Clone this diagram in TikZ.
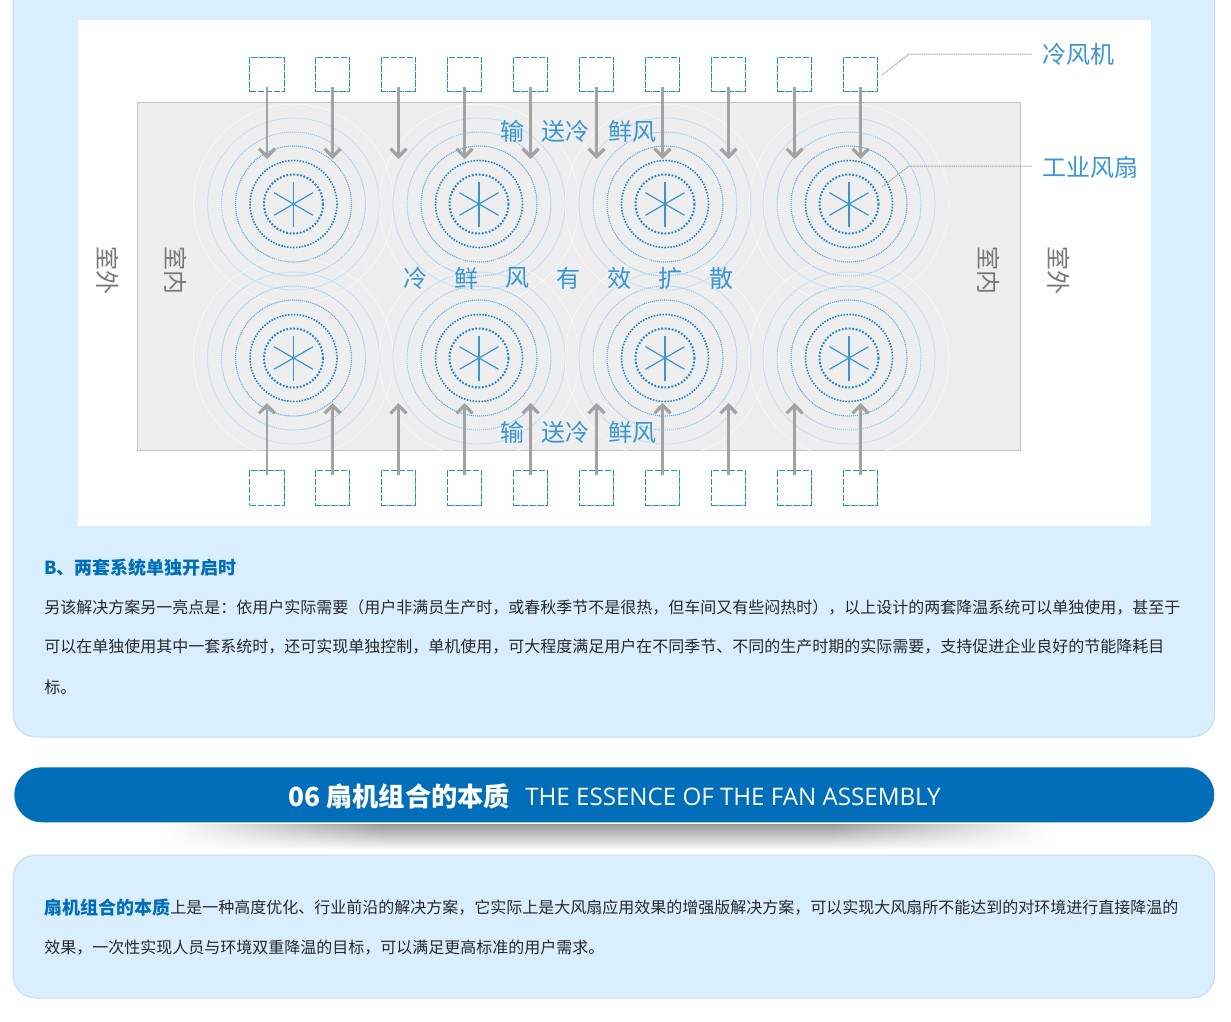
\documentclass[tikz,border=0pt]{standalone}
\usepackage{fontspec}
\setmainfont{Noto Sans CJK SC}
\newfontfamily\latinfont{Open Sans}
\usetikzlibrary{arrows.meta, calc, fadings}
\definecolor{panelBg}{RGB}{217, 239, 255}
\definecolor{panelBorder}{RGB}{197, 222, 236}
\definecolor{bannerBlue}{RGB}{0, 110, 185}
\definecolor{roomBg}{RGB}{238, 238, 238}
\definecolor{roomBorder}{RGB}{196, 196, 196}
\definecolor{labelBlue}{RGB}{58, 150, 210}
\definecolor{boxBlue}{RGB}{40, 145, 195}
\definecolor{ringBlue}{RGB}{30, 130, 200}
\definecolor{ringMid}{RGB}{90, 170, 220}
\definecolor{ringPale}{RGB}{150, 200, 232}
\definecolor{ringFaint}{RGB}{205, 225, 240}
\definecolor{windGray}{RGB}{163, 163, 163}
\definecolor{sideGray}{RGB}{120, 120, 120}
\definecolor{bodyText}{RGB}{40, 40, 40}

\begin{document}
\begin{tikzpicture}[x=0.75pt, y=-0.75pt]

% Style definitions
\tikzset{
    panel/.style={
        draw=panelBorder, line width=0.75pt, fill=panelBg, rounded corners=17pt
    },
    coolbox/.style={
        draw=boxBlue, line width=0.8pt, dash pattern=on 5pt off 1pt,
        minimum size=26pt, inner sep=0pt
    },
    wind/.style={
        draw=windGray, line width=1.6pt,
        -{Straight Barb[length=6pt, width=12pt, line width=2.4pt]}
    },
    ringdots/.style={dash pattern=on 0.8pt off 0.7pt},
    leader/.style={draw=windGray, line width=0.75pt, dash pattern=on 1pt off 0.6pt},
    bluetext/.style={inner sep=0pt, text=labelBlue, font=\fontsize{18}{18}\selectfont},
    sidetext/.style={inner sep=0pt, text=sideGray, rotate=-90, font=\fontsize{18}{18}\selectfont},
    bodyline/.style={inner sep=0pt, anchor=west, text=bodyText, font=\fontsize{12}{12}\selectfont},
    headline/.style={inner sep=0pt, anchor=west, text=bannerBlue, font=\fontsize{13.5}{14}\selectfont\bfseries},
    bannershade/.style={top color=black!40, bottom color=white}
}

\useasboundingbox (0,0) rectangle (1231,1021);
\fill[white] (0,0) rectangle (1231,1021);

% Panels
\draw[panel] (13,0) -- (13,737) -- (1214.5,737) -- (1214.5,0);
\draw[panel] (13,855) rectangle (1214.5,998);

% Diagram background
\node (sheet) [fill=white, inner sep=0pt, minimum width=804.75pt, minimum height=379.5pt, anchor=north west] at (78,20) {};
\node (room) [fill=roomBg, draw=roomBorder, line width=0.75pt, inner sep=0pt, minimum width=662.25pt, minimum height=261pt, anchor=north west] at (137,102) {};

% Fans
\foreach \fx/\fy in {293.5/204, 479/204, 665/204, 849/204, 293.5/358, 479/358, 665/358, 849/358} {
    \begin{scope}[shift={(\fx,\fy)}]
        \draw[white, opacity=0.6, line width=0.6pt] (0,0) circle (100);
        \draw[ringFaint, line width=0.75pt] (0,0) circle (86);
        \draw[ringPale, line width=0.75pt, ringdots] (0,0) circle (72);
        \draw[ringMid, line width=0.8pt, ringdots] (0,0) circle (58);
        \draw[ringBlue, line width=1.2pt, dash pattern=on 1.1pt off 1.1pt] (0,0) circle (43.5);
        \draw[ringBlue, line width=1.5pt, dash pattern=on 1.3pt off 1.3pt] (0,0) circle (29.5);
        \foreach \a in {30, 90, 150} {
            \draw[labelBlue, line width=0.9pt] (\a:22.5) -- (\a+180:22.5);
        }
    \end{scope}
}

% Cooling units and wind
\foreach \i/\bx in {1/267, 2/332.5, 3/398.5, 4/464.5, 5/530.5, 6/596.5, 7/662.5, 8/728.5, 9/794.5, 10/860.5} {
    \node (top\i) [coolbox] at (\bx,74.5) {};
    \node (low\i) [coolbox] at (\bx,488) {};
    \coordinate (topTip\i) at (\bx,159);
    \coordinate (lowTip\i) at (\bx,403);
    \draw[wind] ([yshift=4pt]top\i.south) -- (topTip\i);
    \draw[wind] ([yshift=-4pt]low\i.north) -- (lowTip\i);
}

% Leaders
\coordinate (coolStart) at (882,75);
\coordinate (coolBend) at (909,54);
\coordinate (coolEnd) at (1032,54);
\coordinate (fanStart) at (882,187);
\coordinate (fanBend) at (909,166);
\coordinate (fanEnd) at (1032,166);
\draw[leader] (coolStart) -- (coolBend) -- (coolEnd);
\draw[leader] (fanStart) -- (fanBend) -- (fanEnd);
\node (cool_label) [bluetext, anchor=west] at (1042,54) {冷风机};
\node (fan_label) [bluetext, anchor=west] at (1042,167) {工业风扇};

% Room labels
\node (out_left) [sidetext] at (108,270) {室外};
\node (in_left) [sidetext] at (176,270) {室内};
\node (in_right) [sidetext] at (989,270) {室内};
\node (out_right) [sidetext] at (1059,270) {室外};

\foreach \yy/\nm in {131/upper, 432/lower} {
    \node (shu_\nm) [bluetext] at (512,\yy) {输};
    \node (song_\nm) [bluetext] at (565,\yy) {送冷};
    \node (xian_\nm) [bluetext] at (632,\yy) {鲜风};
}
\foreach \i/\ch [count=\k from 0] in {a/冷, b/鲜, c/风, d/有, e/效, f/扩, g/散} {
    \node (spread_\i) [bluetext] at (415+51*\k,278) {\ch};
}

% Section B text
\node (sec_b) [headline] at (44,568) {B、两套系统单独开启时};
\node (b_one) [bodyline] at (44,607) {另该解决方案另一亮点是：依用户实际需要（用户非满员生产时，或春秋季节不是很热，但车间又有些闷热时），以上设计的两套降温系统可以单独使用，甚至于};
\node (b_two) [bodyline] at (44,647) {可以在单独使用其中一套系统时，还可实现单独控制，单机使用，可大程度满足用户在不同季节、不同的生产时期的实际需要，支持促进企业良好的节能降耗目};
\node (b_three) [bodyline] at (44,687) {标。};

% Banner shadow
\shade[bannershade, path fading=west] (165,824) rectangle (385,850);
\shade[bannershade] (385,824) rectangle (830,850);
\shade[bannershade, path fading=east] (830,824) rectangle (1050,850);

% Banner
\node (banner) [fill=bannerBlue, rounded corners=20.6pt, inner sep=0pt, minimum width=900pt, minimum height=41.25pt, anchor=north west] at (14,767) {};
\node (banner_cn) [inner sep=0pt, anchor=west, text=white, font=\fontsize{19.7}{20}\selectfont\bfseries] at (288,796) {06 扇机组合的本质};
\node (banner_en) [inner sep=0pt, anchor=west, text=white, font=\latinfont\fontsize{18.1}{18}\selectfont] at (525,797) {THE ESSENCE OF THE FAN ASSEMBLY};

% Essence text
\node (ess_lead) [headline] at (44,908) {扇机组合的本质};
\node (ess_one) [bodyline] at (170,908) {上是一种高度优化、行业前沿的解决方案，它实际上是大风扇应用效果的增强版解决方案，可以实现大风扇所不能达到的对环境进行直接降温的};
\node (ess_two) [bodyline] at (44,948) {效果，一次性实现人员与环境双重降温的目标，可以满足更高标准的用户需求。};

\end{tikzpicture}
\end{document}
